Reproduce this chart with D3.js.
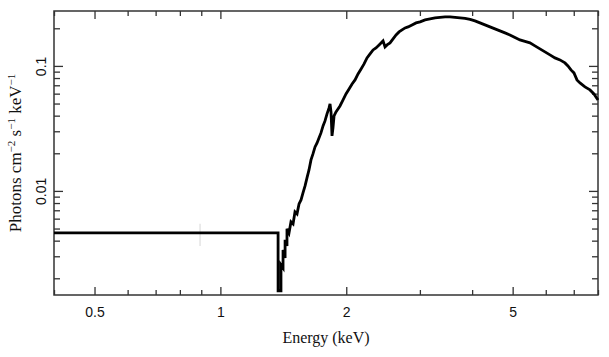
<!DOCTYPE html>
<html><head><meta charset="utf-8">
<script src="https://cdn.jsdelivr.net/npm/d3@7"></script>
<style>body{margin:0;background:#fff}svg{display:block}</style>
</head><body><svg id="c" width="609" height="357"></svg>
<script>
// Spectrum: energy (keV) and flux (photons cm^-2 s^-1 keV^-1)
const energy = [0.4, 1.374, 1.374, 1.381, 1.396, 1.396, 1.412, 1.412, 1.428, 1.428, 1.443, 1.443, 1.459, 1.475, 1.492, 1.508, 1.525, 1.542, 1.559, 1.576, 1.594, 1.611, 1.629, 1.647, 1.665, 1.684, 1.703, 1.721, 1.740, 1.760, 1.779, 1.799, 1.819, 1.829, 1.839, 1.849, 1.859, 1.870, 1.890, 1.911, 1.932, 1.965, 1.997, 2.031, 2.065, 2.099, 2.134, 2.170, 2.206, 2.242, 2.280, 2.318, 2.356, 2.396, 2.422, 2.449, 2.476, 2.504, 2.545, 2.588, 2.631, 2.675, 2.719, 2.765, 2.811, 2.873, 2.937, 3.003, 3.087, 3.173, 3.261, 3.352, 3.446, 3.542, 3.641, 3.743, 3.847, 3.955, 4.063, 4.177, 4.293, 4.413, 4.536, 4.663, 4.793, 4.926, 5.064, 5.205, 5.351, 5.500, 5.654, 5.811, 5.974, 6.140, 6.312, 6.488, 6.669, 6.780, 6.893, 7.008, 7.125, 7.244, 7.446, 7.654, 7.824, 7.911, 8.0];
const flux = [0.00461, 0.00461, 0.00159, 0.00159, 0.00159, 0.00256, 0.00242, 0.00337, 0.00291, 0.00406, 0.00363, 0.00497, 0.00461, 0.00565, 0.00545, 0.00679, 0.00655, 0.00787, 0.00847, 0.00964, 0.01097, 0.01271, 0.01472, 0.01770, 0.01977, 0.02249, 0.02421, 0.02655, 0.02911, 0.03311, 0.03631, 0.04131, 0.04613, 0.04966, 0.04286, 0.02754, 0.03192, 0.03981, 0.04286, 0.04529, 0.04786, 0.05346, 0.05970, 0.06546, 0.07178, 0.07727, 0.08630, 0.09462, 0.10375, 0.11588, 0.12474, 0.13428, 0.13932, 0.14723, 0.15276, 0.15849, 0.14191, 0.14723, 0.15276, 0.16444, 0.17701, 0.18707, 0.19409, 0.20137, 0.20512, 0.21281, 0.22080, 0.22491, 0.23335, 0.23768, 0.24210, 0.24434, 0.24660, 0.24660, 0.24434, 0.24210, 0.23988, 0.23550, 0.22909, 0.22080, 0.21281, 0.20512, 0.19770, 0.19055, 0.18365, 0.17701, 0.16904, 0.16144, 0.15704, 0.15276, 0.14454, 0.13677, 0.12942, 0.12246, 0.11588, 0.11169, 0.10568, 0.10000, 0.09290, 0.08790, 0.07727, 0.07311, 0.06792, 0.06427, 0.05970, 0.05649, 0.05346];
// faint error bar
const errE = [0.894];
const errLo = [0.00363];
const errHi = [0.00545];

const xDomain = [0.4, 8];
const yDomain = [0.00147, 0.275];
const xMajor = [0.5, 1, 2, 5];
const xMajorLabels = ["0.5", "1", "2", "5"];
const xMinor = [0.4, 0.6, 0.7, 0.8, 0.9, 3, 4, 6, 7, 8];
const yMajor = [0.01, 0.1];
const yMajorLabels = ["0.01", "0.1"];
const yMinor = [0.002, 0.003, 0.004, 0.005, 0.006, 0.007, 0.008, 0.009, 0.02, 0.03, 0.04, 0.05, 0.06, 0.07, 0.08, 0.09, 0.2];

const L = 54, R = 598, T = 11, B = 295;
const svg = d3.select("#c");
const x = d3.scaleLog().domain(xDomain).range([L, R]);
const y = d3.scaleLog().domain(yDomain).range([B, T]);
const axisColor = "#333";

function addAxis(gen, transform, ticks, size, labels) {
  const g = svg.append("g").attr("transform", transform)
    .call(gen.tickValues(ticks).tickSizeInner(size).tickSizeOuter(0).tickFormat((d, i) => labels ? labels[i] : ""));
  g.select(".domain").remove();
  g.selectAll("line").attr("stroke", axisColor).attr("stroke-width", 1.3);
  g.selectAll("text").attr("font-family", "Liberation Sans, Arial, sans-serif").attr("font-size", 14).attr("fill", "#111");
  return g;
}
// bottom
const gb = addAxis(d3.axisBottom(x), `translate(0,${B})`, xMajor, -8, xMajorLabels);
gb.selectAll("text").attr("y", 12).attr("dy", "0.71em");
addAxis(d3.axisBottom(x), `translate(0,${B})`, xMinor, -5, null);
// top
addAxis(d3.axisTop(x), `translate(0,${T})`, xMajor, -8, null);
addAxis(d3.axisTop(x), `translate(0,${T})`, xMinor, -5, null);
// left
const gl = addAxis(d3.axisLeft(y), `translate(${L},0)`, yMajor, -9, yMajorLabels);
gl.selectAll("text").attr("transform", "rotate(-90)").attr("x", 0).attr("y", -8).attr("dy", 0).attr("text-anchor", "middle");
addAxis(d3.axisLeft(y), `translate(${L},0)`, yMinor, -6, null);
// right
addAxis(d3.axisRight(y), `translate(${R},0)`, yMajor, -9, null);
addAxis(d3.axisRight(y), `translate(${R},0)`, yMinor, -6, null);

// frame
svg.append("rect").attr("x", L).attr("y", T).attr("width", R - L).attr("height", B - T)
  .attr("fill", "none").attr("stroke", axisColor).attr("stroke-width", 1.5);

// error bar
svg.selectAll(".err").data(errE).join("line")
  .attr("x1", d => x(d)).attr("x2", d => x(d))
  .attr("y1", (d, i) => y(errLo[i])).attr("y2", (d, i) => y(errHi[i]))
  .attr("stroke", "#ddd").attr("stroke-width", 1.2);

// spectrum
const pts = energy.map((e, i) => [e, flux[i]]);
svg.append("path").datum(pts)
  .attr("d", d3.line().x(d => x(d[0])).y(d => y(d[1])))
  .attr("fill", "none").attr("stroke", "#000").attr("stroke-width", 2.8).attr("stroke-linejoin", "miter");

// titles
svg.append("text").attr("x", (L + R) / 2).attr("y", 343).attr("text-anchor", "middle")
  .attr("font-family", "Liberation Serif, Times New Roman, serif").attr("font-size", 16).attr("fill", "#111")
  .text("Energy (keV)");
const yt = svg.append("text").attr("transform", `translate(21,${(T + B) / 2}) rotate(-90)`).attr("text-anchor", "middle")
  .attr("font-family", "Liberation Serif, Times New Roman, serif").attr("font-size", 17).attr("fill", "#111");
yt.append("tspan").text("Photons cm");
yt.append("tspan").attr("dy", -6).attr("font-size", 11).text("−2");
yt.append("tspan").attr("dy", 6).text(" s");
yt.append("tspan").attr("dy", -6).attr("font-size", 11).text("−1");
yt.append("tspan").attr("dy", 6).text(" keV");
yt.append("tspan").attr("dy", -6).attr("font-size", 11).text("−1");
</script></body></html>
